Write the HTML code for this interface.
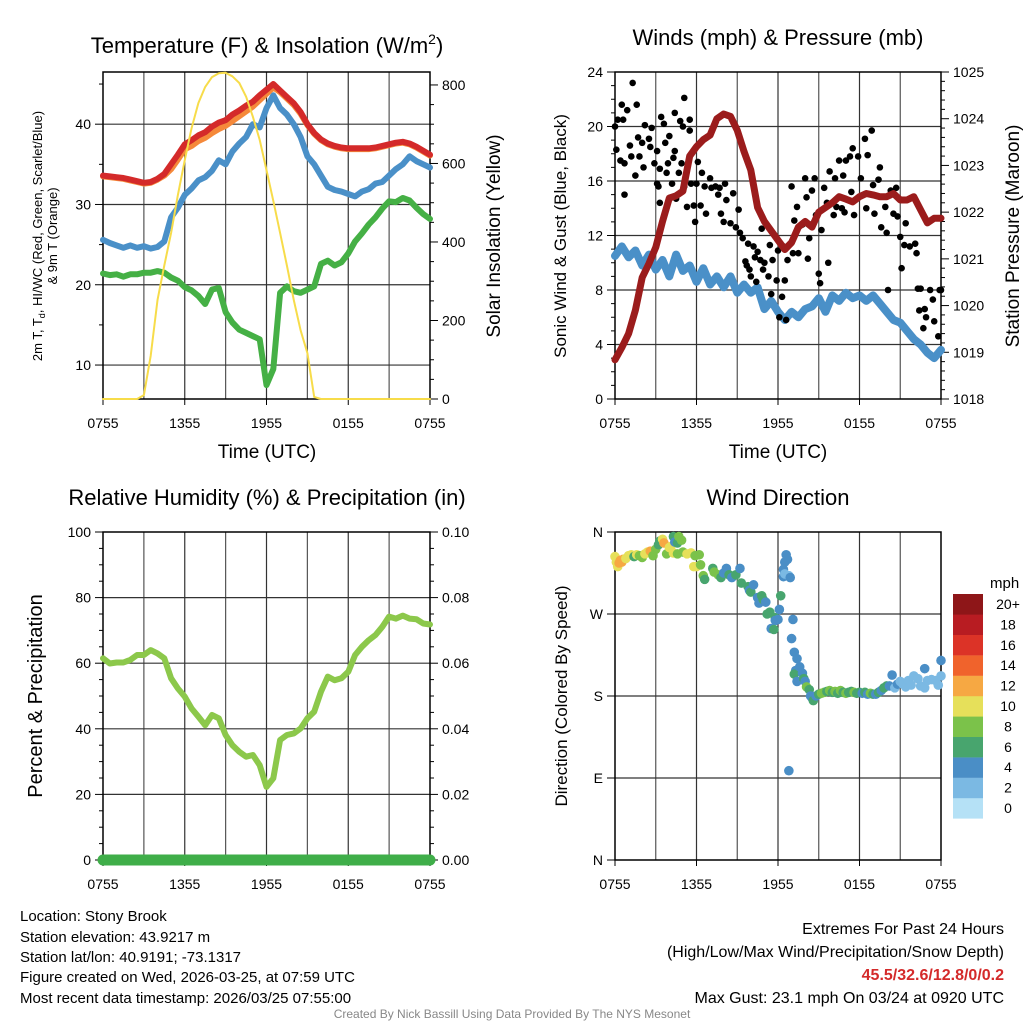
<!DOCTYPE html>
<html><head><meta charset="utf-8"><style>
html,body{margin:0;padding:0;background:#fff}
svg{display:block;font-family:"Liberation Sans",sans-serif}
</style></head><body>
<svg id="chart" width="1024" height="1024" viewBox="0 0 1024 1024" xmlns="http://www.w3.org/2000/svg">
<rect width="1024" height="1024" fill="#fff"/>
<g id="plots"></g>
<g id="texts" fill="#000">
<text x="267" y="53" font-size="22" text-anchor="middle">Temperature (F) &amp; Insolation (W/m<tspan font-size="14" dy="-9">2</tspan><tspan dy="9">)</tspan></text>
<text x="778" y="45" font-size="22" text-anchor="middle">Winds (mph) &amp; Pressure (mb)</text>
<text x="267" y="505" font-size="22" text-anchor="middle">Relative Humidity (%) &amp; Precipitation (in)</text>
<text x="778" y="505" font-size="22" text-anchor="middle">Wind Direction</text>
<text x="267" y="458" font-size="19" text-anchor="middle">Time (UTC)</text>
<text x="778" y="458" font-size="19" text-anchor="middle">Time (UTC)</text>
<text transform="translate(42,236) rotate(-90)" font-size="13" text-anchor="middle">2m T, T<tspan font-size="9" dy="3">d</tspan><tspan dy="-3">, HI/WC (Red, Green, Scarlet/Blue)</tspan></text>
<text transform="translate(57,236) rotate(-90)" font-size="13" text-anchor="middle">&amp; 9m T (Orange)</text>
<text transform="translate(500,236) rotate(-90)" font-size="19" text-anchor="middle">Solar Insolation (Yellow)</text>
<text transform="translate(566,236) rotate(-90)" font-size="17" text-anchor="middle">Sonic Wind &amp; Gust (Blue, Black)</text>
<text transform="translate(1019,236) rotate(-90)" font-size="19" text-anchor="middle">Station Pressure (Maroon)</text>
<text transform="translate(42,696) rotate(-90)" font-size="20" text-anchor="middle">Percent &amp; Precipitation</text>
<text transform="translate(567,696) rotate(-90)" font-size="17" text-anchor="middle">Direction (Colored By Speed)</text>
<text x="990" y="588" font-size="15">mph</text>
<g font-size="15">
<text x="20" y="921">Location: Stony Brook</text>
<text x="20" y="942">Station elevation: 43.9217 m</text>
<text x="20" y="962">Station lat/lon: 40.9191; -73.1317</text>
<text x="20" y="982">Figure created on Wed, 2026-03-25, at 07:59 UTC</text>
<text x="20" y="1003">Most recent data timestamp: 2026/03/25 07:55:00</text>
</g>
<g font-size="16" text-anchor="end">
<text x="1004" y="934">Extremes For Past 24 Hours</text>
<text x="1004" y="957">(High/Low/Max Wind/Precipitation/Snow Depth)</text>
<text x="1004" y="980" fill="#d42a2a" font-weight="bold">45.5/32.6/12.8/0/0.2</text>
<text x="1004" y="1003">Max Gust: 23.1 mph On 03/24 at 0920 UTC</text>
</g>
<text x="512" y="1018" font-size="12" fill="#888" text-anchor="middle">Created By Nick Bassill Using Data Provided By The NYS Mesonet</text>
</g>
</svg>
<script>
// ---- data (half-hourly, 0..24 h from 0755 UTC) ----
const hoursTicks = ["0755","1355","1955","0155","0755"];
const tempRed = [33.6,33.5,33.4,33.3,33.1,32.9,32.7,32.8,33.2,33.8,35.0,36.2,37.5,38.0,38.6,39.0,39.7,40.2,40.5,41.2,41.7,42.3,42.8,43.6,44.3,45.0,44.2,43.4,42.6,41.5,40.0,38.9,38.1,37.6,37.3,37.1,37.0,37.0,37.0,37.0,37.1,37.3,37.5,37.7,37.8,37.6,37.2,36.7,36.2];
const tempOrange = [33.5,33.4,33.3,33.2,33.0,32.8,32.6,32.7,33.1,33.6,34.4,35.6,36.9,37.3,37.9,38.3,38.9,39.4,39.8,40.4,41.0,41.6,42.2,43.0,43.8,44.6,44.0,43.2,42.4,41.3,39.9,38.8,38.0,37.5,37.2,37.0,36.9,36.9,36.9,36.9,37.0,37.2,37.4,37.6,37.7,37.5,37.1,36.6,36.1];
const tempBlue = [25.6,25.2,24.9,24.6,24.9,24.6,24.8,24.5,24.7,25.4,28.4,29.6,31.2,32.0,33.0,33.4,34.2,35.5,35.0,36.6,37.6,38.4,40.0,39.6,42.0,43.6,42.0,41.2,40.0,38.4,36.0,35.0,33.6,32.2,31.8,31.6,31.3,31.0,31.6,31.9,32.6,32.8,33.6,34.4,35.0,36.0,35.4,35.0,34.6];
const tempGreen = [21.4,21.2,21.3,21.0,21.3,21.3,21.5,21.5,21.7,21.5,20.9,20.5,19.7,19.3,18.6,17.6,19.4,19.6,16.6,15.3,14.4,14.0,13.6,13.2,7.5,9.5,19.0,19.8,19.2,19.0,19.4,19.8,22.6,23.0,22.4,22.8,23.9,25.4,26.4,27.5,28.4,29.5,30.4,30.3,30.8,30.5,29.6,28.8,28.2];
const insolation = [0,0,0,0,0,0,10,110,252,340,423,520,609,690,754,795,820,830,831,822,805,770,719,660,583,505,423,340,252,175,117,5,0,0,0,0,0,0,0,0,0,0,0,0,0,0,0,0,0];
const windSpeed = [10.5,11.2,10.4,10.9,9.8,10.6,9.5,10.2,9.0,10.6,9.4,9.8,8.6,9.6,8.4,9.0,8.2,9.0,7.8,8.4,7.8,8.2,6.6,7.2,6.4,5.8,6.4,6.0,6.6,6.8,7.4,6.4,7.6,7.2,7.8,7.4,7.6,7.2,7.6,7.0,6.4,5.8,5.6,5.0,4.4,4.0,3.4,3.0,3.6];
const pressure = [1018.84,1019.1,1019.4,1019.9,1020.6,1020.9,1021.25,1021.8,1022.3,1022.35,1022.45,1023.2,1023.4,1023.55,1023.65,1024.0,1024.1,1024.05,1023.75,1023.3,1022.9,1022.1,1021.8,1021.6,1021.4,1021.2,1021.35,1021.68,1021.8,1021.68,1022.0,1022.1,1022.2,1022.33,1022.28,1022.22,1022.33,1022.4,1022.37,1022.33,1022.33,1022.4,1022.26,1022.26,1022.33,1022.05,1021.77,1021.87,1021.87];
const gustHours = [0.0,0.1,0.2,0.6,0.5,0.4,0.7,0.9,0.7,1.1,1.2,1.5,1.3,1.6,1.7,1.8,2.0,2.1,2.2,2.5,2.6,2.7,2.9,3.1,3.1,3.2,3.3,3.3,3.4,3.6,3.7,3.8,3.9,4.0,4.2,4.3,4.4,4.4,4.5,4.7,4.8,4.9,5.0,5.1,5.1,5.3,5.5,5.5,5.6,5.8,5.9,6.0,6.1,6.3,6.4,6.6,6.7,7.0,7.1,7.4,7.6,7.7,7.8,8.0,8.1,8.2,8.5,8.7,8.9,9.1,9.2,9.4,9.6,9.7,9.8,9.9,10.0,10.2,10.3,10.4,10.5,10.7,10.8,10.9,11.0,11.3,11.4,11.5,11.6,11.9,12.0,12.1,12.3,12.4,12.5,12.6,12.7,13.0,13.1,13.2,13.4,13.5,13.8,14.0,14.1,14.2,14.3,14.5,14.6,14.7,14.8,15.0,15.1,15.2,15.4,15.6,15.7,15.8,16.1,16.2,16.3,16.5,16.7,16.8,16.9,17.0,17.3,17.4,17.5,17.6,17.9,18.1,18.4,18.5,18.6,18.9,19.0,19.1,19.4,19.5,19.6,19.9,20.0,20.1,20.3,20.5,20.7,20.8,21.0,21.1,21.3,21.4,21.7,22.1,22.2,22.3,22.4,22.5,22.7,22.8,22.9,23.2,23.4,23.5,23.8,23.9,24.0];
const gustMph = [20.0,18.3,20.5,20.5,21.6,17.5,17.3,21.2,15.0,18.6,17.8,16.4,23.2,21.6,19.2,17.8,18.8,17.0,20.1,19.1,18.5,19.9,17.3,18.2,15.8,15.6,16.9,14.4,20.7,20.2,18.8,16.6,17.3,19.3,15.8,17.7,18.2,21.0,14.7,16.6,20.4,17.3,20.0,15.6,22.1,14.1,20.5,19.7,15.8,14.2,13.0,15.8,17.4,14.2,16.6,15.6,13.6,16.2,15.5,15.6,15.0,15.5,13.6,13.0,15.8,14.6,12.9,15.1,12.6,13.9,12.2,11.8,10.1,9.8,11.4,9.5,9.0,11.2,10.4,8.6,10.8,10.2,12.5,9.5,10.0,9.0,11.3,7.7,10.2,8.7,10.9,6.0,7.5,11.2,8.7,5.8,10.2,15.6,10.7,13.1,14.1,10.7,12.8,16.2,14.8,10.3,11.8,15.3,12.9,16.2,13.5,9.2,8.5,12.4,15.5,14.4,10.0,16.7,13.5,16.2,14.1,17.5,14.0,16.4,13.7,17.5,17.8,15.2,18.4,13.5,17.8,16.2,19.1,14.0,17.9,19.7,15.7,13.6,16.1,17.0,12.6,14.1,12.2,8.0,15.3,13.6,15.5,13.4,11.9,9.6,11.3,12.9,11.2,11.4,10.7,8.1,6.5,8.1,5.2,6.6,6.0,8.0,7.3,5.7,4.6,8.0,8.0];
const rhValues = [61.5,59.9,60.2,60.2,61,62.5,62.5,64,63,61.5,55.4,52.3,49.8,46.2,43.7,41.1,44.2,43.2,38.1,35.0,33.0,31.5,32,28.9,22.3,24.9,36.6,38.1,38.6,40.1,43.2,45.2,51.3,55.9,54.8,55.4,57.4,62.5,65,67,68.6,71.1,74.2,73.6,74.5,73.6,73.4,72.1,71.8];
const precipValues = [0,0,0,0,0,0,0,0,0,0,0,0,0,0,0,0,0,0,0,0,0,0,0,0,0,0,0,0,0,0,0,0,0,0,0,0,0,0,0,0,0,0,0,0,0,0,0,0,0];
const dirHours = [0.0,0.1,0.2,0.3,0.4,0.5,0.6,0.8,1.0,1.2,1.4,1.6,1.8,2.0,2.2,2.4,2.6,2.8,3.0,3.2,3.3,3.5,3.6,3.8,4.0,4.1,4.3,4.4,4.6,4.7,4.9,4.3,4.6,5.0,5.3,5.6,5.9,6.2,5.8,6.0,6.3,6.5,6.6,7.2,7.3,7.6,7.8,8.0,8.2,8.4,8.6,8.9,9.2,9.3,9.8,9.9,10.0,10.2,10.5,10.6,10.8,10.9,11.1,11.2,11.4,11.8,11.8,11.5,11.7,12.0,12.1,12.2,12.4,12.4,12.5,12.5,12.6,12.7,12.8,12.9,13.1,13.0,13.2,13.4,13.3,13.2,13.4,13.6,13.8,13.9,14.0,14.1,14.3,14.4,14.5,14.6,14.8,15.0,15.2,15.4,15.6,15.8,16.0,16.2,16.4,16.6,16.8,17.0,17.2,17.4,17.6,17.8,18.0,18.2,18.4,18.6,18.8,19.0,19.2,19.4,19.6,19.8,20.0,20.2,20.4,20.6,20.8,21.0,21.2,21.4,21.6,21.8,22.0,22.3,22.5,22.8,22.8,23.0,23.3,23.6,23.8,24.0,24.0,12.8];
const dirDegrees = [333,327,322,326,329,327,330,331,334,335,333,335,334,332,336,338,339,334,341,346,350,352,348,336,343,344,355,349,348,355,351,337,336,338,336,337,334,335,322,322,324,312,308,320,316,313,310,315,320,313,310,313,320,304,300,296,294,302,288,282,290,286,283,270,272,266,263,254,253,264,275,290,311,319,314,327,335,330,312,310,264,243,228,221,208,204,196,212,205,199,196,190,187,180,178,175,180,182,183,184,185,186,184,185,183,186,184,183,184,185,184,183,184,183,184,182,183,182,182,184,186,189,191,191,203,189,193,196,193,190,197,192,202,199,191,189,210,197,198,197,192,219,202,98];
const dirSpeed = [10,10,10,12,12,12,13,10,10,10,7,10,9,8,10,10,13,9,9,7,7,11,12,8,11,11,6,5,6,8,8,10,9,9,10,10,8,9,10,10,8,8,7,7,8,8,7,5,4,6,5,6,5,6,7,4,6,4,4,4,6,7,5,6,7,6,4,4,6,5,5,6,4,4,2,4,4,4,2,4,4,4,4,4,4,6,5,4,4,6,5,8,6,4,4,6,4,6,8,8,6,8,6,8,6,8,6,8,6,6,8,6,6,4,6,4,8,6,4,6,4,6,6,4,4,2,4,2,2,2,2,2,2,2,2,2,4,2,2,2,2,4,2,4];
const speedBinLabels = ["0","2","4","6","8","10","12","14","16","18","20+"];
const speedBinColors = ["#b5e1f6","#7bb9e3","#4a8ec6","#48a56e","#7bc24a","#e6e05a","#f6a843","#f0632c","#dc3327","#b81c22","#8e1618"];

const NS="http://www.w3.org/2000/svg";
const plots=document.getElementById('plots');
function mk(tag,attrs,parent){const e=document.createElementNS(NS,tag);for(const k in attrs)e.setAttribute(k,attrs[k]);(parent||plots).appendChild(e);return e;}
function txt(x,y,s,size,anchor){const t=mk('text',{x:x,y:y,'font-size':size,'text-anchor':anchor||'middle'});t.textContent=s;return t;}

const P1={x0:103,x1:430,y0:72,y1:399};
const P2={x0:615,x1:941,y0:72,y1:399};
const P3={x0:103,x1:430,y0:532,y1:860};
const P4={x0:615,x1:941,y0:532,y1:860};
function xs(P,h){return P.x0+h/24*(P.x1-P.x0);}
function ys(P,v,lo,hi){return P.y1-(v-lo)/(hi-lo)*(P.y1-P.y0);}

function frame(P,name,leftTicks,lo,hi,minorStart,minorStep,rightTicks,rlo,rhi,rMinor,hGrid){
  for(let h=3;h<24;h+=3){const l=mk('line',{x1:xs(P,h),x2:xs(P,h),y1:P.y0,y2:P.y1,stroke:(h%6==0)?'#333':'#555','stroke-width':1.2});
    
    }
  hGrid.forEach(v=>{const y=ys(P,v,lo,hi);const l=mk('line',{x1:P.x0,x2:P.x1,y1:y,y2:y,stroke:'#333','stroke-width':1.2});
    
    });
  const r=mk('rect',{x:P.x0,y:P.y0,width:P.x1-P.x0,height:P.y1-P.y0,fill:'none',stroke:'#000','stroke-width':1.5});
  
  
  for(let v=minorStart;v<=hi+1e-9;v+=minorStep){const y=ys(P,v,lo,hi);const major=leftTicks.some(t=>Math.abs(t.v-v)<1e-6);
    mk('line',{x1:P.x0,x2:P.x0-(major?8:4),y1:y,y2:y,stroke:'#000','stroke-width':1});}
  leftTicks.forEach(t=>{const y=ys(P,t.v,lo,hi);const e=txt(P.x0-12,y+5,t.s,14,'end');
    
    });
  if(rightTicks){
    for(let v=rlo;v<=rhi+1e-9;v+=rMinor){const y=ys(P,v,rlo,rhi);const major=rightTicks.some(t=>Math.abs(t.v-v)<1e-6);
      mk('line',{x1:P.x1,x2:P.x1+(major?8:4),y1:y,y2:y,stroke:'#000','stroke-width':1});}
    rightTicks.forEach(t=>{const y=ys(P,t.v,rlo,rhi);const e=txt(P.x1+12,y+5,t.s,14,'start');
      
      });
  }
  hoursTicks.forEach((s,i)=>{const x=xs(P,i*6);mk('line',{x1:x,x2:x,y1:P.y1,y2:P.y1+6,stroke:'#000','stroke-width':1});
    const e=txt(x,P.y1+29,s,14,'middle');
    
    });
}
function line(P,arr,lo,hi,color,w,name){
  const d=arr.map((v,i)=>(i?'L':'M')+xs(P,i*0.5).toFixed(1)+' '+ys(P,v,lo,hi).toFixed(1)).join(' ');
  const p=mk('path',{d:d,fill:'none',stroke:color,'stroke-width':w,'stroke-linejoin':'round','stroke-linecap':'round'});
  
  
  return p;
}

// Panel 1
const T_LO=5.77,T_HI=46.5;
frame(P1,'temp',[{v:10,s:'10'},{v:20,s:'20'},{v:30,s:'30'},{v:40,s:'40'}],T_LO,T_HI,10,5,
  [{v:0,s:'0'},{v:200,s:'200'},{v:400,s:'400'},{v:600,s:'600'},{v:800,s:'800'}],0,833,50,[10,20,30,40]);
line(P1,tempGreen,T_LO,T_HI,'#45b045',6,'dewpoint-line');
line(P1,tempBlue,T_LO,T_HI,'#4a90c8',6,'heat-index-line');
line(P1,tempOrange,T_LO,T_HI,'#f5893a',6,'temp-9m-line');
line(P1,tempRed,T_LO,T_HI,'#d42a2a',6,'temp-2m-line');
line(P1,insolation,0,833,'#f7dc4a',2,'insolation-line');

// Panel 2
frame(P2,'wind',[0,4,8,12,16,20,24].map(v=>({v:v,s:String(v)})),0,24,0,1,
  [1018,1019,1020,1021,1022,1023,1024,1025].map(v=>({v:v,s:String(v)})),1018,1025,0.2,[4,8,12,16,20]);
line(P2,windSpeed,0,24,'#4a90c8',8,'sonic-wind-line');
gustHours.forEach((h,i)=>{const c=mk('circle',{cx:xs(P2,h),cy:ys(P2,gustMph[i],0,24),r:3.3,fill:'#000'});
  
  });
line(P2,pressure,1018,1025,'#9b1c1c',7,'pressure-line');

// Panel 3
frame(P3,'rh',[0,20,40,60,80,100].map(v=>({v:v,s:String(v)})),0,100,0,5,
  [0,0.02,0.04,0.06,0.08,0.10].map(v=>({v:v,s:v.toFixed(2)})),0,0.1,0.005,[20,40,60,80]);
line(P3,rhValues,0,100,'#8cc84b',6,'rh-line');
line(P3,precipValues,0,0.1,'#3fae49',11,'precip-line');

// Panel 4
frame(P4,'direction',[{v:0,s:'N'},{v:90,s:'E'},{v:180,s:'S'},{v:270,s:'W'},{v:360,s:'N'}],0,360,0,90,null,0,0,1,[90,180,270]);
dirHours.forEach((h,i)=>{const b=Math.min(10,Math.floor(dirSpeed[i]/2));
  const c=mk('circle',{cx:xs(P4,h),cy:ys(P4,dirDegrees[i],0,360),r:4.8,fill:speedBinColors[b]});
  
  });
speedBinLabels.forEach((s,i)=>{const y=594+(10-i)*20.4;
  const r=mk('rect',{x:953,y:y,width:30,height:20.6,fill:speedBinColors[i]});
  
  
  const t=txt(1008,y+15,s,14,'middle');
  
  });
</script>
</body></html>
